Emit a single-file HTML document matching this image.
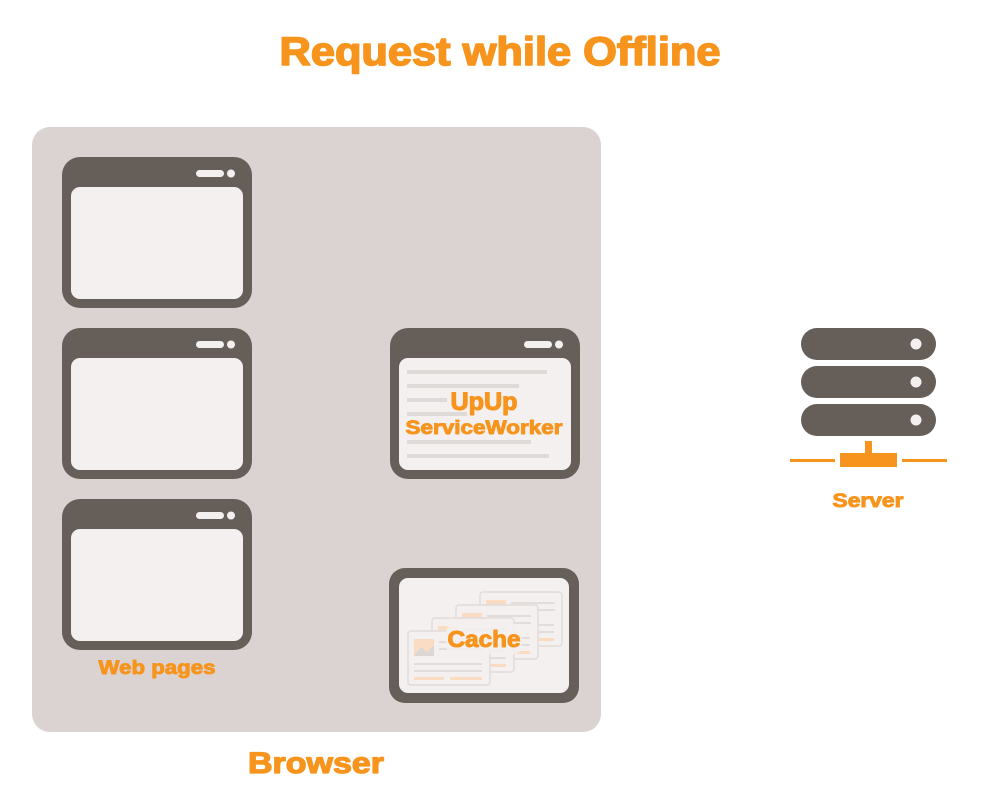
<!DOCTYPE html>
<html><head><meta charset="utf-8"><style>
html,body{margin:0;padding:0;background:#fff;width:1000px;height:809px;overflow:hidden}
text{font-family:"Liberation Sans",sans-serif;font-weight:bold;fill:#f7941d;stroke:#f7941d;stroke-linejoin:round}
</style></head><body>
<svg width="1000" height="809" viewBox="0 0 1000 809" xmlns="http://www.w3.org/2000/svg">
<defs>
<g id="win">
<rect x="0" y="0" width="190" height="151" rx="18" fill="#665e58"/>
<rect x="9" y="30" width="172" height="112" rx="9" fill="#f3f0ef"/>
<rect x="134" y="13" width="28" height="7" rx="3.5" fill="#f3f0ef"/>
<circle cx="169" cy="16.5" r="4" fill="#f3f0ef"/>
</g>
<g id="card">
<rect x="0" y="0" width="82" height="54" rx="3" fill="#f3f0ef" stroke="#e2dcda" stroke-width="1.5"/>
<rect x="6" y="8" width="20" height="17" fill="#f9dcc2"/>
<path d="M6 25 L13 16 L19 21 L26 14 L26 25Z" fill="#dcd6d4"/>
<rect x="31" y="10" width="44" height="2" fill="#e2dcda"/>
<rect x="31" y="17" width="44" height="2" fill="#e2dcda"/>
<rect x="6" y="32" width="68" height="2" fill="#e2dcda"/>
<rect x="6" y="39" width="68" height="2" fill="#e2dcda"/>
<rect x="6" y="46" width="30" height="3" fill="#f9dcc2"/>
<rect x="42" y="46" width="32" height="3" fill="#f9dcc2"/>
</g>
</defs>
<text x="500" y="65" text-anchor="middle" font-size="40" stroke-width="1.6" textLength="441" lengthAdjust="spacingAndGlyphs">Request while Offline</text>
<rect x="32" y="127" width="569" height="605" rx="18" fill="#dbd3d1"/>
<use href="#win" x="62" y="157"/>
<use href="#win" x="62" y="328"/>
<use href="#win" x="62" y="499"/>
<text x="157" y="674" text-anchor="middle" font-size="19" stroke-width="0.9" textLength="117" lengthAdjust="spacingAndGlyphs">Web pages</text>
<use href="#win" x="390" y="328"/>
<g fill="#dedad8">
<rect x="407" y="370" width="140" height="4"/>
<rect x="407" y="384" width="112" height="4"/>
<rect x="407" y="398" width="40" height="4"/>
<rect x="407" y="412" width="60" height="4"/>
<rect x="407" y="440" width="124" height="4"/>
<rect x="407" y="454" width="142" height="4"/>
</g>
<text x="484" y="410" text-anchor="middle" font-size="25" stroke-width="1.1" textLength="67" lengthAdjust="spacingAndGlyphs">UpUp</text>
<text x="484" y="434" text-anchor="middle" font-size="19" stroke-width="0.9" textLength="157" lengthAdjust="spacingAndGlyphs">ServiceWorker</text>
<rect x="389" y="568" width="190" height="135" rx="16" fill="#665e58"/>
<rect x="399" y="578" width="170" height="115" rx="9" fill="#f3f0ef"/>
<use href="#card" x="480" y="592"/>
<use href="#card" x="456" y="605"/>
<use href="#card" x="432" y="618"/>
<use href="#card" x="408" y="631"/>
<rect x="446" y="624" width="76" height="30" rx="8" fill="#f3f0ef" opacity="0.85"/>
<text x="484" y="647" text-anchor="middle" font-size="23" stroke-width="1" textLength="73" lengthAdjust="spacingAndGlyphs">Cache</text>
<text x="316" y="773" text-anchor="middle" font-size="30" stroke-width="1.3" textLength="136" lengthAdjust="spacingAndGlyphs">Browser</text>
<g fill="#665e58">
<rect x="801" y="328" width="135" height="32" rx="16"/>
<rect x="801" y="366" width="135" height="32" rx="16"/>
<rect x="801" y="404" width="135" height="32" rx="16"/>
</g>
<g fill="#f3f0ef">
<circle cx="916" cy="344" r="5.5"/>
<circle cx="916" cy="382" r="5.5"/>
<circle cx="916" cy="420" r="5.5"/>
</g>
<g fill="#f7941d">
<rect x="865" y="441" width="7" height="14"/>
<rect x="840" y="453" width="57" height="14"/>
<rect x="790" y="459" width="45" height="3"/>
<rect x="902" y="459" width="45" height="3"/>
</g>
<text x="868" y="507" text-anchor="middle" font-size="19" stroke-width="0.9" textLength="71" lengthAdjust="spacingAndGlyphs">Server</text>
</svg>
</body></html>
